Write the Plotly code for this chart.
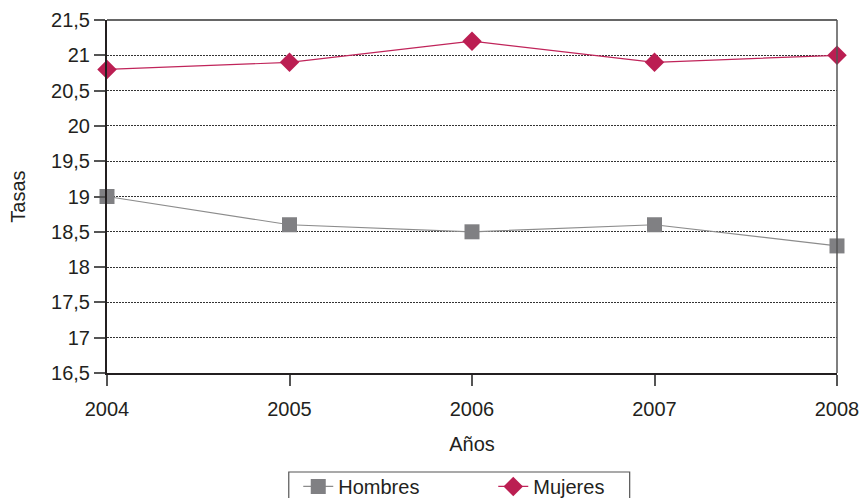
import plotly.graph_objects as go

# Tasas por sexo, 2004-2008
years = [2004, 2005, 2006, 2007, 2008]
hombres = [19.0, 18.6, 18.5, 18.6, 18.3]
mujeres = [20.8, 20.9, 21.2, 20.9, 21.0]
y_ticks = [16.5, 17, 17.5, 18, 18.5, 19, 19.5, 20, 20.5, 21, 21.5]

FONT = "Liberation Sans, Arial, sans-serif"
TXT = "#231f20"
FS = 20

fig = go.Figure()
fig.add_trace(go.Scatter(
    x=years, y=hombres, name="Hombres", mode="lines+markers",
    line=dict(color="#8c8c8c", width=1.2),
    marker=dict(symbol="square", size=15, color="#808083"),
    cliponaxis=False,
))
fig.add_trace(go.Scatter(
    x=years, y=mujeres, name="Mujeres", mode="lines+markers",
    line=dict(color="#c0245a", width=1.2),
    marker=dict(symbol="diamond", size=15, color="#bb1e52"),
    cliponaxis=False,
))

fig.update_layout(
    width=862, height=498,
    margin=dict(l=107, r=25, t=20, b=125, autoexpand=False),
    paper_bgcolor="white", plot_bgcolor="white",
    font=dict(family=FONT, size=FS, color=TXT),
    separators=",.",
    showlegend=True,
    legend=dict(
        orientation="h", x=0.262, xanchor="left", y=-0.266, yanchor="top",
        borderwidth=0, bgcolor="rgba(0,0,0,0)",
        entrywidth=150, font=dict(size=FS, color=TXT),
        itemwidth=30,
    ),
    xaxis=dict(
        range=[2004, 2008], tickvals=years, ticktext=[str(y) for y in years],
        showgrid=False, zeroline=False,
        showline=True, linecolor="#231f20", linewidth=2,
        ticks="outside", ticklen=11, tickcolor="#555555", tickwidth=1.5,
        ticklabelstandoff=6,
        title=dict(text="Años", font=dict(size=FS, color=TXT), standoff=18),
    ),
    yaxis=dict(
        range=[16.5, 21.5], tickvals=y_ticks,
        ticktext=[f"{v:g}".replace(".", ",") for v in y_ticks],
        showgrid=True, gridcolor="#333333", griddash="1.5px,1.5px", gridwidth=1,
        zeroline=False,
        showline=True, linecolor="#231f20", linewidth=2,
        ticks="outside", ticklen=11, tickcolor="#555555", tickwidth=1.5,
        title=dict(text="Tasas", font=dict(size=FS, color=TXT), standoff=20),
    ),
)

# Frame: top and right edges of the plot area
fig.add_shape(type="line", xref="paper", yref="paper", x0=0, x1=1, y0=1, y1=1,
              line=dict(color="#333333", width=1.5))
fig.add_shape(type="line", xref="paper", yref="paper", x0=1, x1=1, y0=0, y1=1,
              line=dict(color="#555555", width=1.5))
# Legend box, open past the bottom edge of the figure
fig.add_shape(type="rect", xref="paper", yref="paper",
              x0=0.249, x1=0.716, y0=-0.2805, y1=-0.40,
              line=dict(color="#555555", width=1.2), fillcolor="rgba(0,0,0,0)")

fig.write_html("out.html")
